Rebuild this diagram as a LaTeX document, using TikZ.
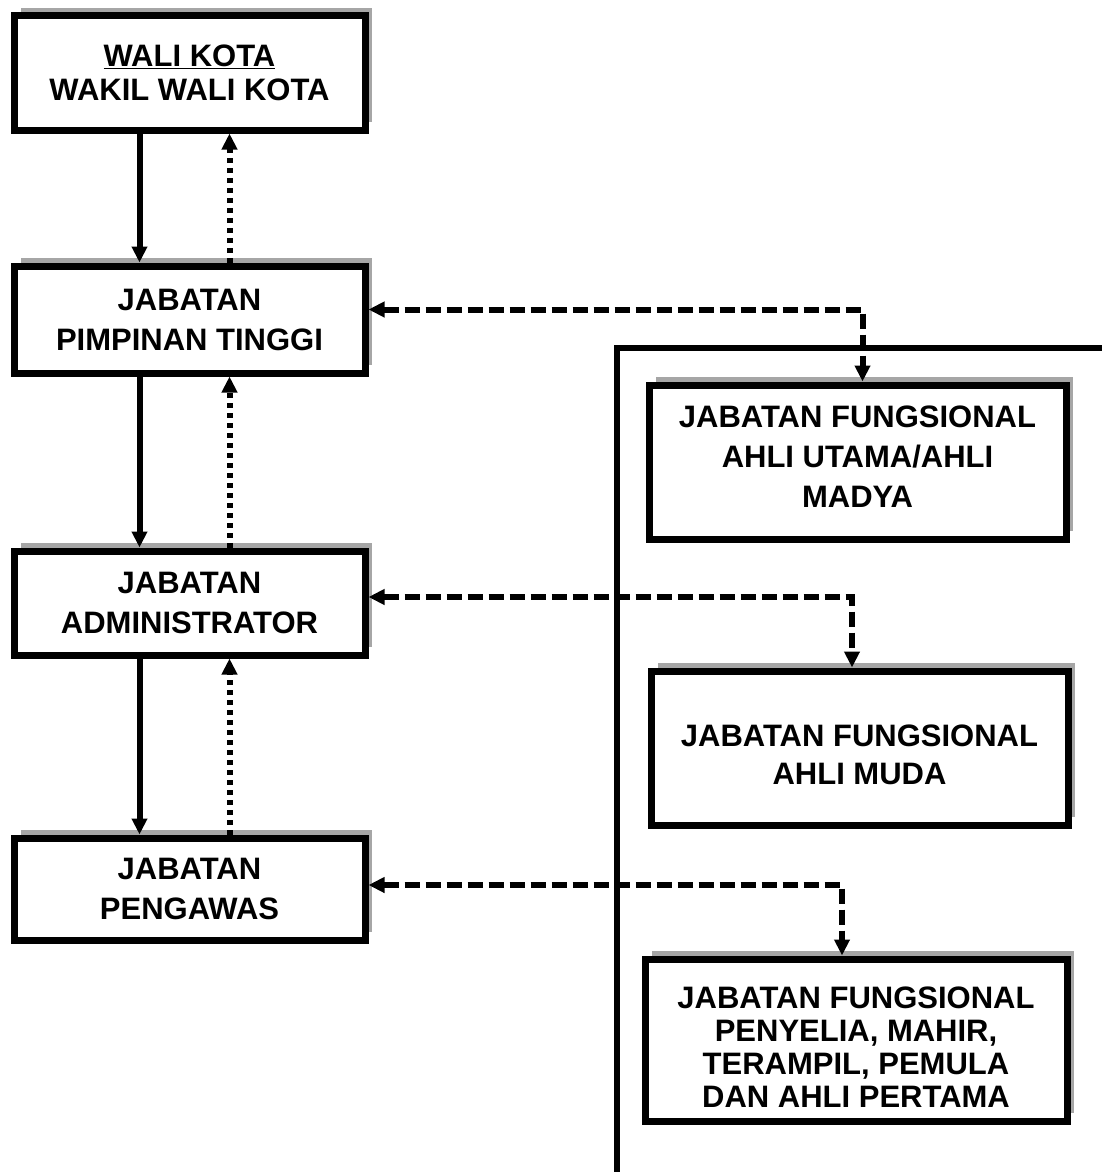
\documentclass[tikz,border=0pt]{standalone}
\usepackage{fontspec}
\setmainfont{Liberation Sans}
\usetikzlibrary{arrows.meta,shadows}

\newcommand*{\leftw}{351pt}
\newcommand*{\rightw}{417pt}
\newcommand*{\downx}{-50pt}
\newcommand*{\upx}{40pt}

\begin{document}
\begin{tikzpicture}[x=1pt,y=-1pt,
	box/.style={draw,line width=7pt,fill=white,align=center,inner sep=0pt,
		font=\fontsize{31}{40}\selectfont\bfseries,
		drop shadow={shadow xshift=7pt,shadow yshift=8pt,fill=black!35,opacity=1}},
	down/.style={line width=6pt,-{Triangle[length=16pt,width=15pt]}},
	up/.style={down,dash pattern=on 5pt off 5pt},
	link/.style={line width=6pt,dash pattern=on 15pt off 6pt,
		{Triangle[length=16pt,width=15pt]}-{Triangle[length=16pt,width=15pt]}}]

	\useasboundingbox (0,0) rectangle (1102,1172);

	% frame of the functional positions
	\coordinate (framebot) at (617,1172);
	\coordinate (framecorner) at (617,348);
	\coordinate (frameend) at (1102,348);
	\draw[line width=6pt] (framebot) -- (framecorner) -- (frameend);

	% structural positions
	\node[box,minimum width=\leftw,minimum height=114pt,font=\fontsize{31}{34}\selectfont\bfseries] (walikota) at (189.5,73) {\underline{WALI KOTA}\\WAKIL WALI KOTA};
	\node[box,minimum width=\leftw,minimum height=107pt] (jpt) at (189.5,319.5) {JABATAN\\PIMPINAN TINGGI};
	\node[box,minimum width=\leftw,minimum height=104pt] (admin) at (189.5,603) {JABATAN\\ADMINISTRATOR};
	\node[box,minimum width=\leftw,minimum height=102pt] (pengawas) at (189.5,889) {JABATAN\\PENGAWAS};

	% functional positions
	\node[box,minimum width=\rightw,minimum height=154pt,text height=90pt] (jfutama) at (857.5,462) {JABATAN FUNGSIONAL\\AHLI UTAMA/AHLI\\MADYA};
	\node[box,minimum width=\rightw,minimum height=154pt,font=\fontsize{31}{38}\selectfont\bfseries,text height=74pt] (jfmuda) at (859.5,748) {JABATAN FUNGSIONAL\\AHLI MUDA};
	\node[box,minimum width=422pt,minimum height=162pt,font=\fontsize{31}{33}\selectfont\bfseries,text height=134pt] (jfpertama) at (856,1040) {JABATAN FUNGSIONAL\\PENYELIA, MAHIR,\\TERAMPIL, PEMULA\\DAN AHLI PERTAMA};

	% down and up
	\draw[down] ([xshift=\downx]walikota.south) -- ([xshift=\downx]jpt.north);
	\draw[up] ([xshift=\upx]jpt.north) -- ([xshift=\upx]walikota.south);
	\draw[down] ([xshift=\downx]jpt.south) -- ([xshift=\downx]admin.north);
	\draw[up] ([xshift=\upx]admin.north) -- ([xshift=\upx]jpt.south);
	\draw[down] ([xshift=\downx]admin.south) -- ([xshift=\downx]pengawas.north);
	\draw[up] ([xshift=\upx]pengawas.north) -- ([xshift=\upx]admin.south);

	% links to the functional positions
	\draw[link] ([yshift=10pt]jpt.east) -| ([xshift=5pt]jfutama.north);
	\draw[link] ([yshift=6pt]admin.east) -| ([xshift=-7.5pt]jfmuda.north);
	\draw[link] ([yshift=4pt]pengawas.east) -| ([xshift=-14pt]jfpertama.north);

\end{tikzpicture}
\end{document}
